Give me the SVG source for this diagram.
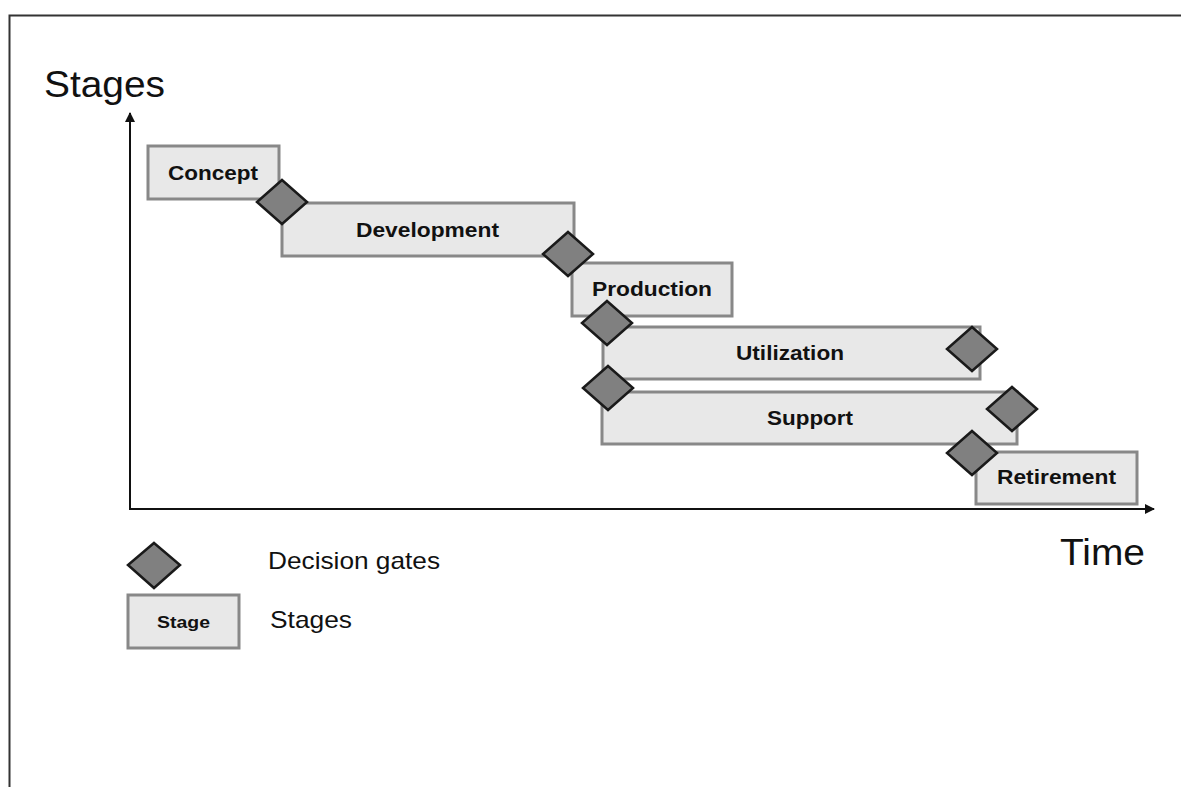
<svg xmlns="http://www.w3.org/2000/svg" width="1181" height="787" viewBox="0 0 1181 787">
<style>
.stage{fill:#e8e8e8;stroke:#888888;stroke-width:3}
.gate{fill:#808080;stroke:#1a1a1a;stroke-width:2.5;stroke-linejoin:miter}
.lbl{font-family:"Liberation Sans",Arial,sans-serif;font-weight:bold;font-size:20px;fill:#111;text-anchor:middle}
.big{font-family:"Liberation Sans",Arial,sans-serif;font-size:36px;fill:#111}
.leg{font-family:"Liberation Sans",Arial,sans-serif;font-size:24px;fill:#111}
.axis{stroke:#111;stroke-width:2;fill:none}
</style>
<defs>
<marker id="arr" viewBox="0 0 10 10" refX="9" refY="5" markerWidth="10" markerHeight="10" markerUnits="userSpaceOnUse" orient="auto">
<path d="M0,0 L10,5 L0,10 z" fill="#111"/>
</marker>
<polygon id="dia" points="0,-22 25,0 0,22 -25,0"/>
</defs>
<rect width="1181" height="787" fill="#ffffff"/>
<path d="M9.5,787 V15.5 H1181" fill="none" stroke="#333" stroke-width="2"/>
<text class="big" x="44" y="97" textLength="121" lengthAdjust="spacingAndGlyphs">Stages</text>
<text class="big" x="1060" y="565" textLength="85" lengthAdjust="spacingAndGlyphs">Time</text>
<g id="connectors">
<path class="axis" d="M130,509 V113" marker-end="url(#arr)"/>
<path class="axis" d="M129,509 H1154" marker-end="url(#arr)"/>
</g>
<g id="concept"><rect class="stage" x="148" y="146" width="131" height="53"/><text class="lbl" x="213" y="180" textLength="90" lengthAdjust="spacingAndGlyphs">Concept</text></g>
<g id="development"><rect class="stage" x="282" y="203" width="292" height="53"/><text class="lbl" x="427.5" y="237" textLength="143" lengthAdjust="spacingAndGlyphs">Development</text></g>
<g id="production"><rect class="stage" x="572" y="263" width="160" height="53"/><text class="lbl" x="652" y="296" textLength="120" lengthAdjust="spacingAndGlyphs">Production</text></g>
<g id="utilization"><rect class="stage" x="603" y="327" width="377" height="52"/><text class="lbl" x="790" y="360" textLength="108" lengthAdjust="spacingAndGlyphs">Utilization</text></g>
<g id="support"><rect class="stage" x="602" y="392" width="415" height="52"/><text class="lbl" x="810" y="425" textLength="86" lengthAdjust="spacingAndGlyphs">Support</text></g>
<g id="retirement"><rect class="stage" x="976" y="452" width="161" height="52"/><text class="lbl" x="1056.5" y="484" textLength="119" lengthAdjust="spacingAndGlyphs">Retirement</text></g>
<g id="gate1"><use href="#dia" class="gate" x="282" y="202"/></g>
<g id="gate2"><use href="#dia" class="gate" x="568" y="254"/></g>
<g id="gate3"><use href="#dia" class="gate" x="607" y="323"/></g>
<g id="gate4"><use href="#dia" class="gate" x="608" y="388"/></g>
<g id="gate5"><use href="#dia" class="gate" x="972" y="349"/></g>
<g id="gate6"><use href="#dia" class="gate" x="1012" y="409"/></g>
<g id="gate7"><use href="#dia" class="gate" x="972" y="453"/></g>
<g id="legend-gate"><polygon class="gate" points="154,543 180,565 154,588 128,565"/><text class="leg" x="268" y="569" textLength="172" lengthAdjust="spacingAndGlyphs">Decision gates</text></g>
<g id="legend-stage"><rect class="stage" x="128" y="595" width="111" height="53"/><text class="lbl" x="183.5" y="628" style="font-size:16px" textLength="53" lengthAdjust="spacingAndGlyphs">Stage</text><text class="leg" x="270" y="628" textLength="82" lengthAdjust="spacingAndGlyphs">Stages</text></g>
</svg>
